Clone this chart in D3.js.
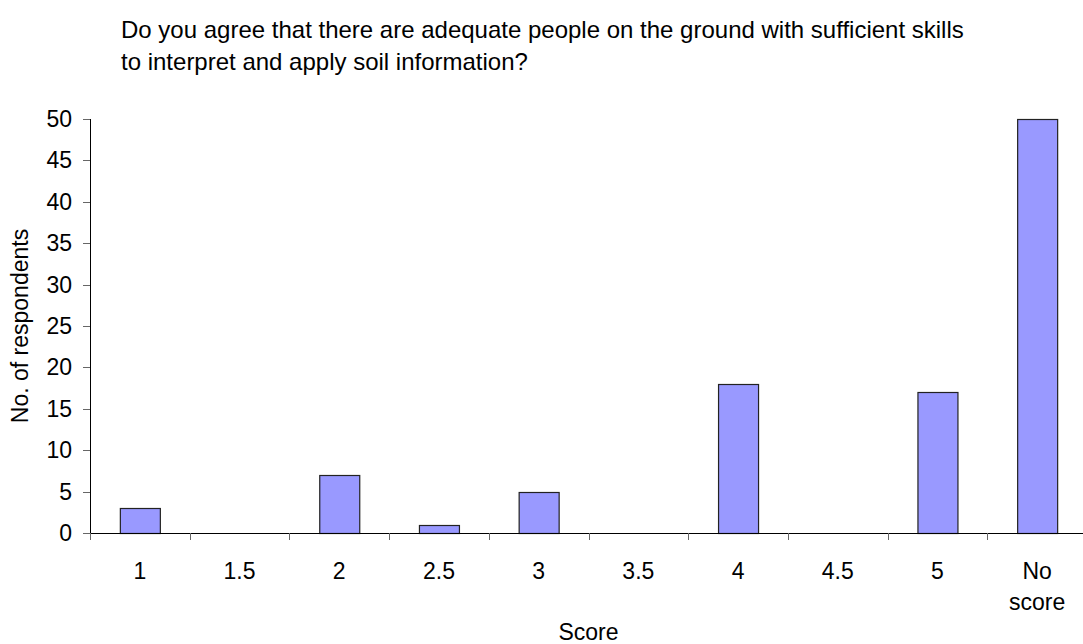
<!DOCTYPE html>
<html><head><meta charset="utf-8">
<script src="https://cdn.jsdelivr.net/npm/d3@7"></script>
<style>body{margin:0;background:#fff}svg text{font-family:"Liberation Sans",Arial,sans-serif;fill:#000}</style>
</head><body><svg id="c" width="1083" height="644"></svg>
<script>
const categories = ["1","1.5","2","2.5","3","3.5","4","4.5","5","No score"];
const values = [3,0,7,1,5,0,18,0,17,50];
const yTicks = [0,5,10,15,20,25,30,35,40,45,50];
const titleLines = ["Do you agree that there are adequate people on the ground with sufficient skills","to interpret and apply soil information?"];

const svg = d3.select("#c");
const x0 = 90, x1 = 1087, yb = 533, yt = 119;
const x = d3.scaleBand().domain(categories).range([x0, x1]).padding(0);
const y = d3.scaleLinear().domain([0,50]).range([yb, yt]);
const barW = 40;

svg.append("g").selectAll("text").data(titleLines).join("text")
  .attr("x", 121).attr("y", (d,i)=>38 + i*32).attr("font-size", 24).text(d=>d);

svg.append("g").selectAll("rect").data(values).join("rect")
  .attr("x", (d,i)=>x(categories[i]) + (x.bandwidth()-barW)/2 + 0.5)
  .attr("y", d=>Math.round(y(d))+0.5)
  .attr("width", barW)
  .attr("height", d=>Math.round(yb - y(d)))
  .attr("fill", "#9999ff").attr("stroke", "#222").attr("stroke-width", 1.2);

// y axis
const ya = svg.append("g");
ya.append("line").attr("x1", x0+0.5).attr("x2", x0+0.5).attr("y1", yt).attr("y2", yb).attr("stroke","#000");
ya.selectAll("line.t").data(yTicks).join("line").attr("class","t")
  .attr("x1", x0-7).attr("x2", x0).attr("y1", d=>Math.round(y(d))+0.5).attr("y2", d=>Math.round(y(d))+0.5).attr("stroke","#666");
ya.selectAll("text").data(yTicks).join("text")
  .attr("x", 72).attr("y", d=>y(d)).attr("dy","0.35em").attr("text-anchor","end").attr("font-size",23).text(d=>d);

// x axis
const xa = svg.append("g");
xa.append("line").attr("x1", x0).attr("x2", 1083).attr("y1", yb+0.5).attr("y2", yb+0.5).attr("stroke","#000");
const bounds = categories.map(c=>x(c)).concat([x1]);
xa.selectAll("line.t").data(bounds).join("line").attr("class","t")
  .attr("x1", d=>Math.round(d)+0.5).attr("x2", d=>Math.round(d)+0.5).attr("y1", yb).attr("y2", yb+7).attr("stroke","#666");
xa.selectAll("text").data(categories).join("text")
  .attr("text-anchor","middle").attr("font-size",23)
  .each(function(d){
    const parts = d === "No score" ? ["No","score"] : [d];
    const t = d3.select(this);
    parts.forEach((p,i)=>t.append("tspan").attr("x", x(d)+x.bandwidth()/2).attr("y", 579 + i*31).text(p));
  });

svg.append("text").attr("x", (x0+x1)/2).attr("y", 640).attr("text-anchor","middle").attr("font-size",23).text("Score");
svg.append("text").attr("transform", `translate(28,${(yt+yb)/2}) rotate(-90)`).attr("text-anchor","middle").attr("font-size",23).text("No. of respondents");
</script></body></html>
